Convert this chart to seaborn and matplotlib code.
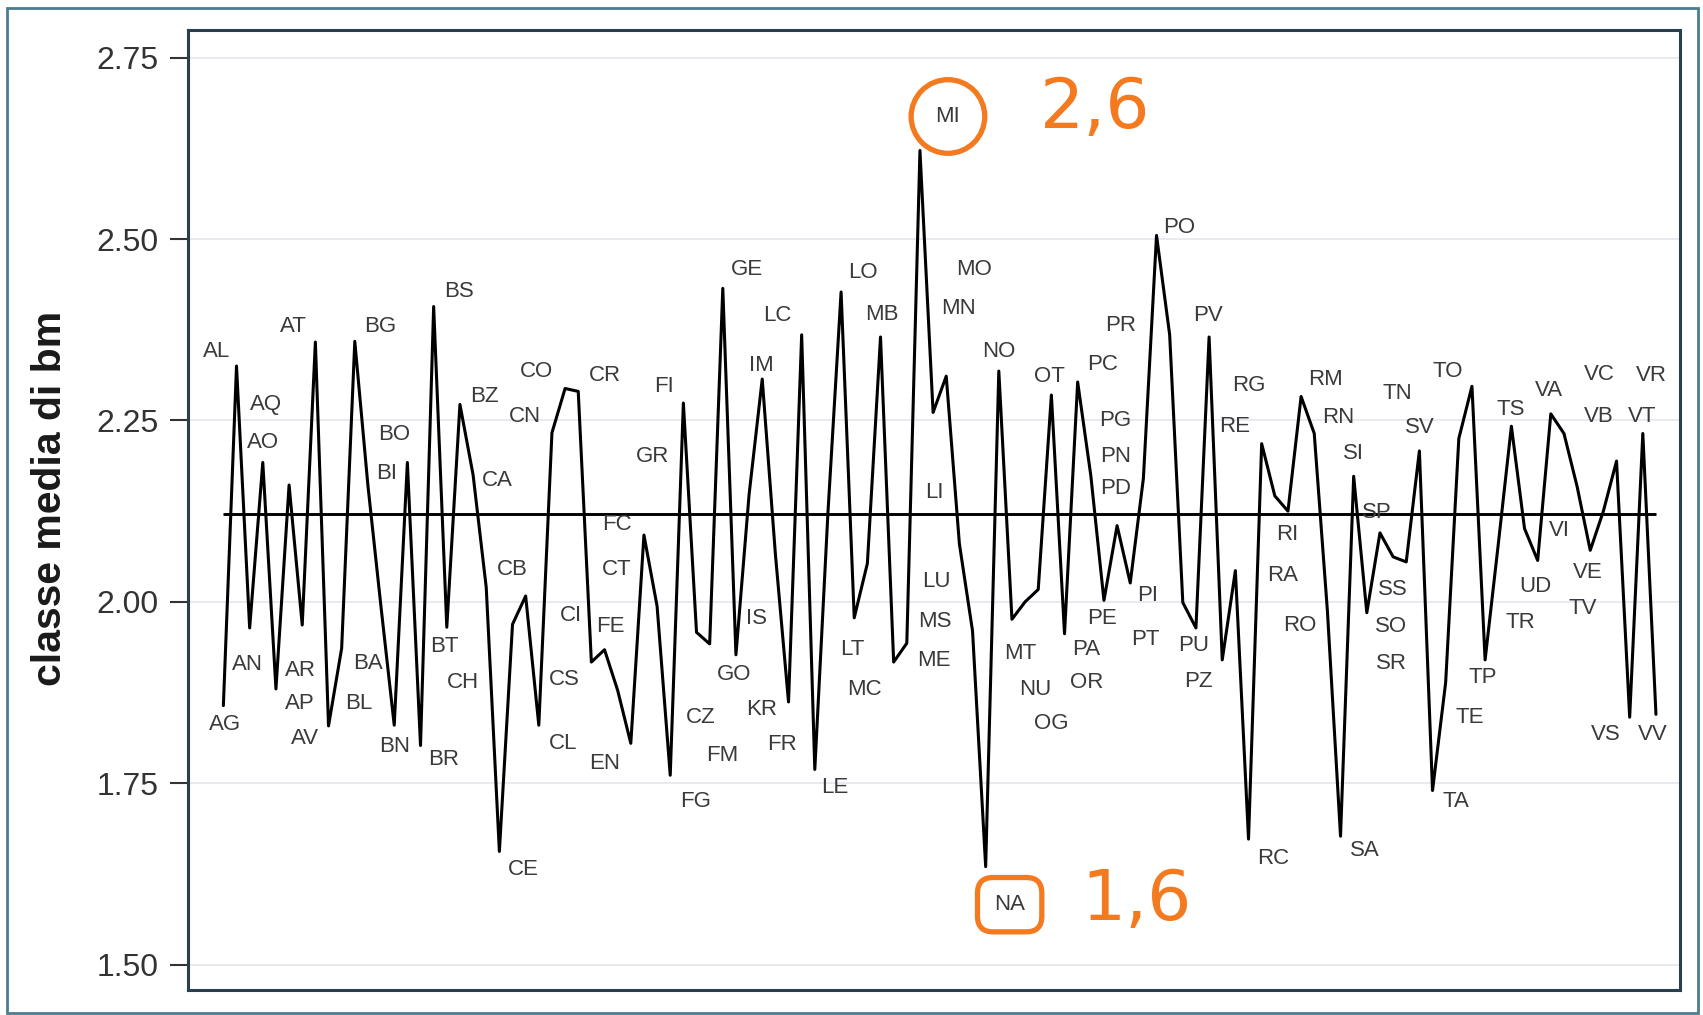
import numpy as np
import pandas as pd
import matplotlib
matplotlib.use("Agg")
import matplotlib.pyplot as plt
import seaborn as sns

# province codes (alphabetical) and their mean class value
province = ["AG", "AL", "AN", "AO", "AP", "AQ", "AR", "AT", "AV", "BA",
            "BG", "BI", "BL", "BN", "BO", "BR", "BS", "BT", "BZ", "CA",
            "CB", "CE", "CH", "CI", "CL", "CN", "CO", "CR", "CS", "CT",
            "CZ", "EN", "FC", "FE", "FG", "FI", "FM", "FR", "GE", "GO",
            "GR", "IM", "IS", "KR", "LC", "LE", "LI", "LO", "LT", "LU",
            "MB", "MC", "ME", "MI", "MN", "MO", "MS", "MT", "NA", "NO",
            "NU", "OG", "OR", "OT", "PA", "PC", "PD", "PE", "PG", "PI",
            "PN", "PO", "PR", "PT", "PU", "PV", "PZ", "RA", "RC", "RE",
            "RG", "RI", "RM", "RN", "RO", "SA", "SI", "SO", "SP", "SR",
            "SS", "SV", "TA", "TE", "TN", "TO", "TP", "TR", "TS", "TV",
            "UD", "VA", "VB", "VC", "VE", "VI", "VR", "VS", "VT", "VV"]

classe_media = [1.857, 2.325, 1.964, 2.192, 1.880, 2.161, 1.968, 2.358, 1.829, 1.936,
                2.359, 2.160, 1.992, 1.830, 2.192, 1.802, 2.407, 1.965, 2.272, 2.175,
                2.020, 1.656, 1.969, 2.008, 1.830, 2.233, 2.294, 2.290, 1.917, 1.934,
                1.878, 1.805, 2.092, 1.994, 1.761, 2.274, 1.958, 1.942, 2.432, 1.927,
                2.148, 2.307, 2.066, 1.862, 2.368, 1.769, 2.123, 2.427, 1.978, 2.053,
                2.365, 1.917, 1.943, 2.622, 2.261, 2.311, 2.080, 1.960, 1.635, 2.318,
                1.976, 2.000, 2.017, 2.285, 1.956, 2.303, 2.174, 2.002, 2.105, 2.026,
                2.170, 2.505, 2.368, 1.999, 1.964, 2.365, 1.920, 2.043, 1.673, 2.218,
                2.146, 2.125, 2.283, 2.232, 1.988, 1.677, 2.173, 1.985, 2.095, 2.062,
                2.055, 2.208, 1.740, 1.889, 2.225, 2.297, 1.920, 2.079, 2.242, 2.101,
                2.057, 2.259, 2.232, 2.159, 2.071, 2.125, 2.194, 1.841, 2.232, 1.845]

media = 2.121
y_ticks = [1.50, 1.75, 2.00, 2.25, 2.50, 2.75]
note_max = "2,6"
note_min = "1,6"

# where each province label sits relative to its point (pixels, up = +)
label_offsets = {
    "AG": (2, -19), "AL": (-20, 15), "AN": (-2, -37), "AO": (0, 20), "AP": (24, -15),
    "AQ": (-23, 81), "AR": (-2, -45), "AT": (-22, 16), "AV": (-23, -13), "BA": (26, -15),
    "BG": (25, 15), "BI": (19, 12), "BL": (-22, -96), "BN": (0, -21), "BO": (-13, 28),
    "BR": (23, -14), "BS": (25, 15), "BT": (-2, -19), "BZ": (24, 8), "CA": (24, -6),
    "CB": (26, 18), "CE": (24, -18), "CH": (-50, -58), "CI": (45, -19), "CL": (24, -18),
    "CN": (-27, 16), "CO": (-29, 17), "CR": (27, 16), "CS": (-27, -17), "CT": (12, 80),
    "CZ": (83, -27), "EN": (-26, -20), "FC": (-27, 11), "FE": (-47, -20), "FG": (25, -26),
    "FI": (-19, 17), "FM": (26, -123), "FR": (72, -101), "GE": (24, 19), "GO": (-2, -20),
    "GR": (-97, 38), "IM": (-1, 14), "IS": (-19, -65), "KR": (-27, -8), "LC": (-24, 19),
    "LE": (20, -18), "LI": (106, 20), "LO": (22, 19), "LT": (-2, -32), "LU": (69, -18),
    "MB": (1, 22), "MC": (-29, -27), "ME": (27, -17), "MI": (28, 34), "MN": (25, 104),
    "MO": (28, 107), "MS": (-25, -78), "MT": (48, -23), "NA": (24, -38), "NO": (0, 20),
    "NU": (23, -70), "OG": (26, -122), "OR": (48, -93), "OT": (-2, 19), "PA": (22, -16),
    "PC": (25, 17), "PD": (25, -13), "PE": (-2, -18), "PG": (-2, 105), "PI": (17, -13),
    "PN": (-28, 22), "PO": (23, 8), "PR": (-49, 9), "PT": (-37, -37), "PU": (-2, -18),
    "PV": (-1, 21), "PZ": (-24, -22), "RA": (47, -5), "RC": (25, -19), "RE": (-27, 17),
    "RG": (-26, 110), "RI": (-1, -23), "RM": (24, 17), "RN": (24, 16), "RO": (-28, -15),
    "SA": (24, -14), "SI": (0, 23), "SO": (24, -14), "SP": (-3, 20), "SR": (-2, -107),
    "SS": (-13, -28), "SV": (0, 23), "TA": (23, -11), "TE": (24, -35), "TN": (-61, 45),
    "TO": (-24, 15), "TP": (-2, -18), "TR": (22, -78), "TS": (-1, 17), "TV": (58, -80),
    "UD": (-2, -26), "VA": (-2, 23), "VB": (35, 17), "VC": (22, 112), "VE": (-2, -22),
    "VI": (-44, -19), "VR": (35, 86), "VS": (-24, -17), "VT": (-1, 17), "VV": (-3, -20),
}

sns.set_theme(style="white")
plt.rcParams["font.family"] = ["Liberation Sans", "DejaVu Sans"]

df = pd.DataFrame({"pos": np.arange(len(province)), "prov": province, "valore": classe_media})

fig = plt.figure(figsize=(17.03, 10.15), dpi=100)
ax = fig.add_axes([0.1104, 0.0246, 0.8761, 0.9458])

for yt in y_ticks:
    ax.axhline(yt, color="#e4e6ee", lw=1.2, zorder=0)

sns.lineplot(data=df, x="pos", y="valore", sort=False, color="black", lw=2.2, ax=ax, zorder=3)
ax.hlines(media, df["pos"].iloc[0], df["pos"].iloc[-1], color="black", lw=2.1, zorder=2)

orange = "#f47a20"
for i, (code, val) in enumerate(zip(province, classe_media)):
    dx, dy = label_offsets[code]
    kw = {}
    if code == "MI":
        kw["bbox"] = dict(boxstyle="circle,pad=1.1", fc="none", ec=orange, lw=3.8)
    elif code == "NA":
        kw["bbox"] = dict(boxstyle="round,pad=0.75,rounding_size=0.7", fc="none", ec=orange, lw=3.8)
    ax.annotate(code, (i, val), xytext=(dx, dy), textcoords="offset pixels",
                ha="center", va="center", fontsize=16, color="#3a3a3a", zorder=4, **kw)

# hand-written notes next to max and min
i_max = int(np.argmax(classe_media))
i_min = int(np.argmin(classe_media))
ax.annotate(note_max, (i_max, classe_media[i_max]), xytext=(175, 42), textcoords="offset pixels",
            ha="center", va="center", fontsize=50, color=orange, family="DejaVu Sans")
ax.annotate(note_min, (i_min, classe_media[i_min]), xytext=(151, -34), textcoords="offset pixels",
            ha="center", va="center", fontsize=50, color=orange, family="DejaVu Sans")

ax.set_xlim(-2.69, 110.83)
ax.set_ylim(1.465, 2.788)
ax.set_xticks([])
ax.set_yticks(y_ticks)
ax.set_yticklabels([f"{t:.2f}" for t in y_ticks])
ax.tick_params(axis="y", which="major", left=True, length=13, width=1.5, color="#333333",
               pad=8, labelsize=23, labelcolor="#333333")
ax.set_xlabel("")
ax.set_ylabel("classe media di bm", fontsize=29.5, fontweight="bold", color="#1a1a1a", labelpad=40)
ax.yaxis.set_label_coords(-0.0797, 0.512)

for s in ax.spines.values():
    s.set_visible(True)
    s.set_color("#28404e")
    s.set_linewidth(2.2)

# outer border of the picture
fig.patches.append(plt.Rectangle((0.004, 0.002), 0.993, 0.99, transform=fig.transFigure,
                                 fill=False, ec="#4a7d92", lw=2.0))

fig.savefig("out.png", dpi=100)
